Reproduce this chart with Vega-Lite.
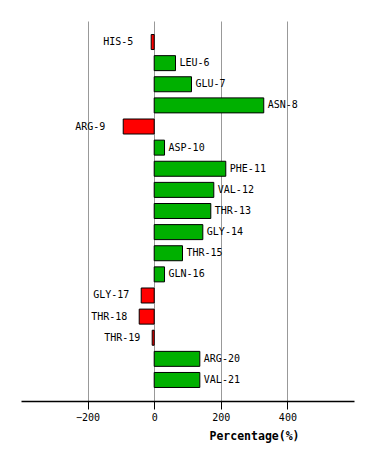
{
  "$schema": "https://vega.github.io/schema/vega-lite/v6.json",
  "width": 333,
  "height": 380,
  "autosize": {"type": "none"},
  "padding": {"left": 21, "top": 21, "right": 20, "bottom": 60},
  "background": "white",
  "config": {"view": {"stroke": null}, "font": "DejaVu Sans Mono"},
  "data": {"values": [
    {"residue": "HIS-5", "value": -9},
    {"residue": "LEU-6", "value": 64},
    {"residue": "GLU-7", "value": 112},
    {"residue": "ASN-8", "value": 329},
    {"residue": "ARG-9", "value": -93},
    {"residue": "ASP-10", "value": 31},
    {"residue": "PHE-11", "value": 215},
    {"residue": "VAL-12", "value": 179},
    {"residue": "THR-13", "value": 170},
    {"residue": "GLY-14", "value": 146},
    {"residue": "THR-15", "value": 85},
    {"residue": "GLN-16", "value": 31},
    {"residue": "GLY-17", "value": -39},
    {"residue": "THR-18", "value": -45},
    {"residue": "THR-19", "value": -6},
    {"residue": "ARG-20", "value": 137},
    {"residue": "VAL-21", "value": 137}
  ]},
  "encoding": {
    "y": {"field": "residue", "type": "nominal", "sort": null,
      "scale": {"paddingInner": 0.29, "paddingOuter": 0.64}, "axis": null},
    "x": {"field": "value", "type": "quantitative",
      "scale": {"domain": [-400, 600], "nice": false, "zero": false},
      "axis": {"values": [-200, 0, 200, 400], "title": "Percentage(%)",
        "grid": true, "gridColor": "#999999", "gridWidth": 1, "gridOpacity": 1,
        "domainColor": "black", "domainWidth": 1.5, "tickColor": "black", "tickSize": 8, "tickWidth": 1,
        "labelFont": "DejaVu Sans Mono", "labelFontSize": 10, "labelColor": "black", "labelPadding": 3,
        "titleFont": "DejaVu Sans Mono", "titleFontSize": 11.5, "titleFontWeight": "bold", "titleColor": "black",
        "titleX": 233, "titleY": 35, "titleAlign": "center", "titleBaseline": "middle"}}
  },
  "layer": [
    {"mark": {"type": "bar", "stroke": "black", "strokeWidth": 1},
     "encoding": {
       "color": {"condition": {"test": "datum.value < 0", "value": "#ff0000"}, "value": "#00b000"}
     }},
    {"transform": [{"filter": "datum.value >= 0"}],
     "mark": {"type": "text", "align": "left", "baseline": "middle", "dx": 4, "font": "DejaVu Sans Mono", "fontSize": 10, "color": "black"},
     "encoding": {"text": {"field": "residue"}}},
    {"transform": [{"filter": "datum.value < 0"}],
     "mark": {"type": "text", "align": "left", "baseline": "middle", "dx": -48, "font": "DejaVu Sans Mono", "fontSize": 10, "color": "black"},
     "encoding": {"text": {"field": "residue"}}}
  ]
}
